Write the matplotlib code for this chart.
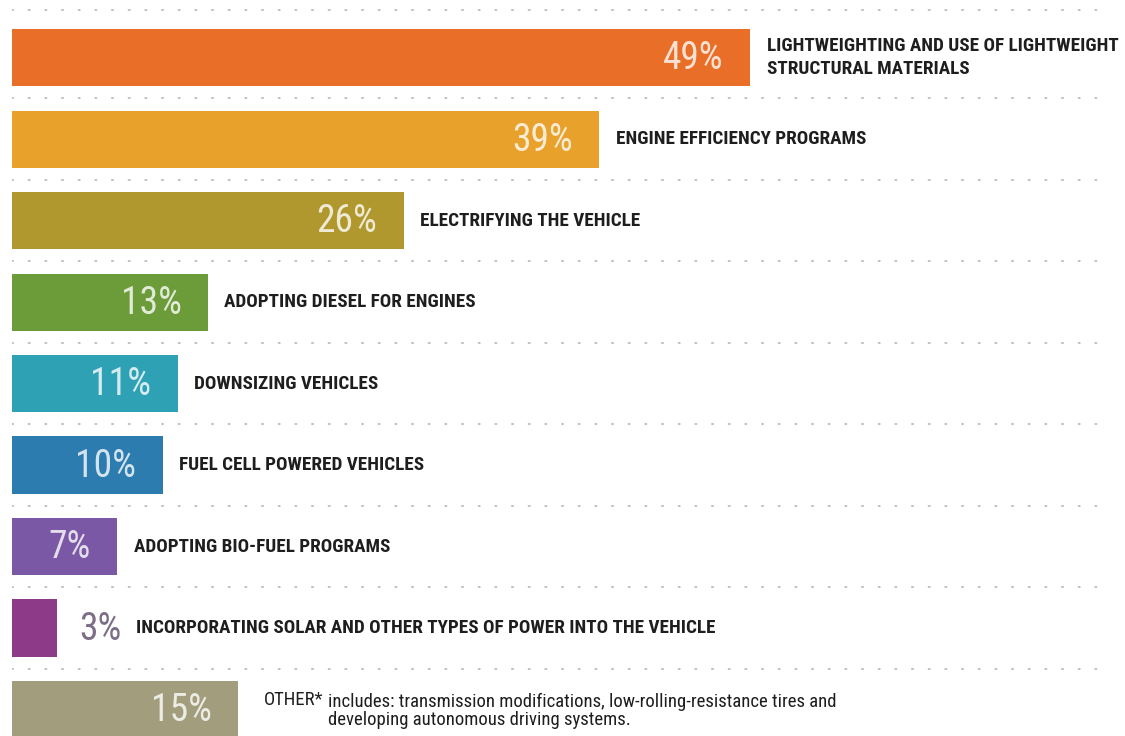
import matplotlib
matplotlib.use('Agg')
import matplotlib.pyplot as plt
import numpy as np

# survey shares, top to bottom
labels = ['LIGHTWEIGHTING AND USE OF LIGHTWEIGHT\nSTRUCTURAL MATERIALS',
          'ENGINE EFFICIENCY PROGRAMS',
          'ELECTRIFYING THE VEHICLE',
          'ADOPTING DIESEL FOR ENGINES',
          'DOWNSIZING VEHICLES',
          'FUEL CELL POWERED VEHICLES',
          'ADOPTING BIO-FUEL PROGRAMS',
          'INCORPORATING SOLAR AND OTHER TYPES OF POWER INTO THE VEHICLE',
          'OTHER*']
values = [49, 39, 26, 13, 11, 10, 7, 3, 15]
colors = ['#E96F28', '#E8A12B', '#B0982F', '#6C9B3A', '#2FA1B5',
          '#2D7CB0', '#7A58A5', '#8D3A88', '#A29D7D']
other_note = ('includes: transmission modifications, low-rolling-resistance tires and\n'
              'developing autonomous driving systems.')

narrow = ['Roboto Condensed', 'Liberation Sans Narrow', 'DejaVu Sans']

fig = plt.figure(figsize=(11.25, 7.36), dpi=100)
ax = fig.add_axes([12 / 1125, 0, 1 - 12 / 1125, 1])
y = np.arange(len(values))

ax.set_xlim(0, 1113 / 15.06)
ax.set_ylim(8.325, -0.706)
ax.axis('off')

# dotted separators between rows
seps = list(y[1:] - 0.5)
seps.insert(0, -0.583)
for s in seps:
    ax.plot([0, 72.4], [s, s], color='#c2c2c2', lw=1.5,
            linestyle=(0, (0.5, 7.5)), dash_capstyle='round', zorder=0)

ax.barh(y, values, height=0.70, color=colors, zorder=2)

txt = dict(family=narrow, fontstretch='condensed', color='#1e1e1e')
for i, (v, lab) in enumerate(zip(values, labels)):
    if v >= 5:
        ax.annotate(f'{v}%', (v, i), xytext=(-19, -1), textcoords='offset points',
                    ha='right', va='center', fontsize=27, color='white', alpha=0.8,
                    family=narrow, fontstretch='condensed', zorder=3)
        off = 12
    else:
        ax.annotate(f'{v}%', (v, i), xytext=(16, -1), textcoords='offset points',
                    ha='left', va='center', fontsize=27, color='#7d6e88',
                    family=narrow, fontstretch='condensed', zorder=3)
        off = 57
    if lab == 'OTHER*':
        ax.annotate(lab, (v, i), xytext=(19, 7), textcoords='offset points',
                    ha='left', va='center', fontsize=13.5, **txt)
        ax.annotate(other_note, (v, i), xytext=(65, -1), textcoords='offset points',
                    ha='left', va='center', fontsize=13.5, linespacing=1.05, **txt)
    else:
        ax.annotate(lab, (v, i), xytext=(off, 0), textcoords='offset points',
                    ha='left', va='center', fontsize=13.8, fontweight='bold',
                    linespacing=1.35, **txt)

fig.savefig('out.png', dpi=100)
